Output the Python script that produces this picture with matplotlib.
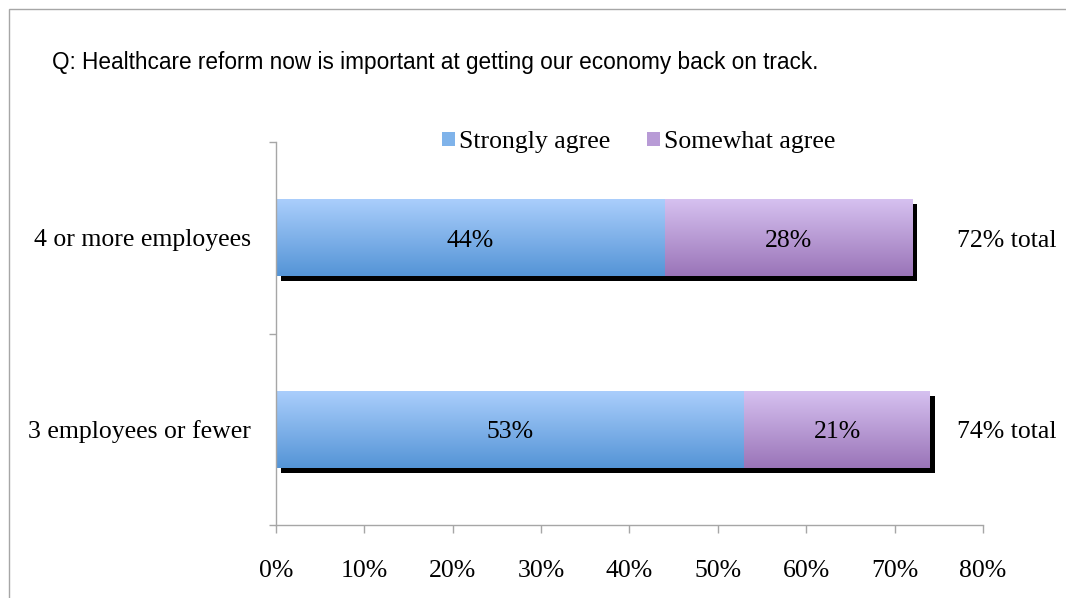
import numpy as np
import matplotlib
matplotlib.use("Agg")
import matplotlib.pyplot as plt
import matplotlib.transforms as mtransforms
from matplotlib.colors import LinearSegmentedColormap
from matplotlib.patches import Rectangle, Patch

# Survey data (percent of respondents)
categories = ["3 employees or fewer", "4 or more employees"]
strongly_agree = [53, 44]
somewhat_agree = [21, 28]
series_names = ["Strongly agree", "Somewhat agree"]
x_ticks = [0, 10, 20, 30, 40, 50, 60, 70, 80]
question = "Q: Healthcare reform now is important at getting our economy back on track."

blue_cmap = LinearSegmentedColormap.from_list("blue", ["#5494d6", "#aacefc"])
purple_cmap = LinearSegmentedColormap.from_list("purple", ["#9a74b8", "#d6c1f0"])
serif = "Liberation Serif"
fs = 18.5

fig = plt.figure(figsize=(10.66, 5.98), dpi=100)
ax = fig.add_axes([0.2589, 0.1221, 0.6632, 0.6404])

# outer frame
fig.patches.append(Rectangle((9 / 1066, -0.1), 1.2, 1 - 9 / 598 + 0.1,
                             transform=fig.transFigure, fill=False,
                             edgecolor="#a6a6a6", linewidth=1.0))

y = np.arange(len(categories))
height = 0.4
totals = [a + b for a, b in zip(strongly_agree, somewhat_agree)]

# drop shadow behind the whole stacked bar
shadow_tr = ax.transData + mtransforms.ScaledTranslation(5 / 100, -5 / 100, fig.dpi_scale_trans)
ax.barh(y, totals, height=height, color="black", transform=shadow_tr, zorder=1)

grad = np.linspace(0, 1, 256).reshape(-1, 1)


def gradient_bar(left, width, yc, cmap):
    bar = ax.barh(yc, width, left=left, height=height, color="none", zorder=2)[0]
    im = ax.imshow(grad, cmap=cmap, aspect="auto", origin="lower",
                   extent=[left, left + width, yc - height / 2, yc + height / 2],
                   zorder=2, interpolation="bicubic")
    im.set_clip_path(bar)
    return bar


for i in range(len(categories)):
    gradient_bar(0, strongly_agree[i], y[i], blue_cmap)
    gradient_bar(strongly_agree[i], somewhat_agree[i], y[i], purple_cmap)
    ax.text(strongly_agree[i] / 2, y[i] - 0.015, f"{strongly_agree[i]}%", ha="center", va="center",
            fontsize=fs, family=serif, zorder=3)
    ax.text(strongly_agree[i] + somewhat_agree[i] / 2, y[i] - 0.015, f"{somewhat_agree[i]}%",
            ha="center", va="center", fontsize=fs, family=serif, zorder=3)
    ax.text(77.1, y[i] - 0.015, f"{totals[i]}% total", ha="left", va="center",
            fontsize=fs, family=serif, clip_on=False)

ax.set_xlim(0, 80)
ax.set_ylim(-0.5, 1.5)

for side in ["top", "right"]:
    ax.spines[side].set_visible(False)
for side in ["left", "bottom"]:
    ax.spines[side].set_color("#a6a6a6")
    ax.spines[side].set_linewidth(1.0)

ax.set_xticks(x_ticks)
ax.set_xticklabels([f"{v}%" for v in x_ticks], family=serif, fontsize=fs)
ax.tick_params(axis="x", length=6, width=1, color="#a6a6a6", pad=19)

ax.set_yticks([-0.5, 0.5, 1.5])
ax.set_yticklabels([])
ax.tick_params(axis="y", which="major", length=5, width=1, color="#a6a6a6")
ax.set_yticks(y, minor=True)
ax.set_yticklabels(categories, minor=True, family=serif, fontsize=fs)
ax.tick_params(axis="y", which="minor", length=0, pad=18)

handles = [Patch(facecolor="#7fb3ea"), Patch(facecolor="#b89bd6")]
ax.legend(handles, series_names, loc="center", bbox_to_anchor=(0.513, 1.0),
          ncol=2, frameon=False, prop={"family": serif, "size": fs},
          handlelength=0.5, handleheight=0.5, handletextpad=0.15, columnspacing=1.45)

fig.text(52 / 1066, 1 - 63 / 598, question, ha="left", va="center",
         fontsize=16.3, family="Liberation Sans")

fig.savefig("out.png", dpi=100)
